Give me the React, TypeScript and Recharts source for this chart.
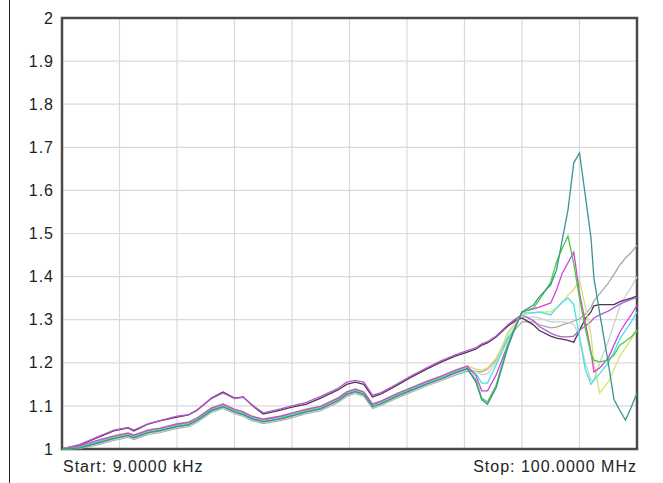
import { LineChart, Line, XAxis, YAxis, CartesianGrid, ReferenceArea } from 'recharts'

// frequency position across the sweep, 0 = start, 100 = stop
const sweep = [
  0, 3, 6.5, 9, 11.5, 12.5, 15, 17, 20, 22, 23.5, 26, 28, 30, 31.5, 33, 35, 38, 40, 42.5, 45, 48, 49.5, 51, 52.5, 54,
  55.5, 58, 60.5, 63.5, 66, 68.5, 70.5, 72, 73, 74, 75.5, 77.5, 79, 80, 82, 83, 85, 86, 87, 88, 89, 90, 91, 92, 92.5,
  93.5, 95, 96, 97, 98, 99, 100,
]

const trace1 = [
  1.0, 1.009, 1.028, 1.042, 1.049, 1.042, 1.058, 1.065, 1.074, 1.079, 1.09, 1.118, 1.132, 1.118, 1.121, 1.102, 1.081,
  1.09, 1.097, 1.104, 1.118, 1.137, 1.15, 1.155, 1.15, 1.121, 1.128, 1.146, 1.165, 1.186, 1.202, 1.216, 1.225,
  1.232, 1.241, 1.246, 1.26, 1.285, 1.299, 1.304, 1.288, 1.275, 1.262, 1.257, 1.255, 1.252, 1.248, 1.275, 1.302,
  1.318, 1.332, 1.335, 1.335, 1.335, 1.342, 1.346, 1.35, 1.355,
]
const trace2 = [
  1.0, 1.01, 1.03, 1.044, 1.05, 1.044, 1.059, 1.066, 1.076, 1.08, 1.091, 1.117, 1.13, 1.117, 1.12, 1.103, 1.084,
  1.093, 1.1, 1.108, 1.122, 1.141, 1.155, 1.159, 1.155, 1.125, 1.131, 1.149, 1.168, 1.189, 1.205, 1.219, 1.228,
  1.235, 1.244, 1.249, 1.262, 1.288, 1.303, 1.311, 1.298, 1.284, 1.269, 1.263, 1.26, 1.26, 1.262, 1.276, 1.285,
  1.296, 1.304, 1.311, 1.32, 1.328, 1.336, 1.342, 1.347, 1.352,
]
const trace3 = [
  1.0, 1.003, 1.016, 1.025, 1.032, 1.027, 1.039, 1.043, 1.053, 1.057, 1.067, 1.09, 1.099, 1.087, 1.081, 1.071, 1.064,
  1.071, 1.078, 1.087, 1.094, 1.113, 1.127, 1.134, 1.127, 1.099, 1.106, 1.122, 1.136, 1.152, 1.164, 1.178, 1.187,
  1.16, 1.118, 1.109, 1.148, 1.241, 1.288, 1.318, 1.327, 1.346, 1.387, 1.434, 1.466, 1.494, 1.43, 1.35, 1.28, 1.22,
  1.206, 1.202, 1.206, 1.218, 1.241, 1.25, 1.26, 1.276,
]
const trace4 = [
  1.0, 1.002, 1.015, 1.024, 1.031, 1.026, 1.038, 1.042, 1.052, 1.056, 1.066, 1.089, 1.098, 1.086, 1.08, 1.07, 1.063,
  1.07, 1.077, 1.086, 1.093, 1.112, 1.126, 1.133, 1.126, 1.098, 1.105, 1.121, 1.135, 1.151, 1.163, 1.177, 1.186,
  1.155, 1.114, 1.104, 1.142, 1.234, 1.288, 1.318, 1.334, 1.353, 1.381, 1.415, 1.485, 1.555, 1.664, 1.687, 1.589,
  1.49, 1.397, 1.316, 1.2, 1.115, 1.09, 1.067, 1.097, 1.13,
]
const trace5 = [
  1.0, 1.007, 1.021, 1.03, 1.037, 1.032, 1.044, 1.048, 1.058, 1.062, 1.072, 1.095, 1.104, 1.092, 1.086, 1.076, 1.069,
  1.076, 1.083, 1.092, 1.099, 1.118, 1.132, 1.139, 1.132, 1.104, 1.111, 1.127, 1.141, 1.157, 1.169, 1.183, 1.192,
  1.17, 1.135, 1.135, 1.172, 1.241, 1.288, 1.318, 1.325, 1.329, 1.339, 1.369, 1.408, 1.432, 1.457, 1.362, 1.295,
  1.225, 1.179, 1.188, 1.211, 1.241, 1.271, 1.292, 1.311, 1.334,
]
const trace6 = [
  1.0, 1.005, 1.019, 1.028, 1.035, 1.03, 1.042, 1.046, 1.056, 1.06, 1.07, 1.093, 1.102, 1.09, 1.084, 1.074, 1.067,
  1.074, 1.081, 1.09, 1.097, 1.116, 1.13, 1.137, 1.13, 1.102, 1.109, 1.125, 1.139, 1.155, 1.167, 1.181, 1.19,
  1.175, 1.153, 1.153, 1.195, 1.253, 1.288, 1.316, 1.316, 1.318, 1.311, 1.327, 1.341, 1.35, 1.335, 1.26, 1.185,
  1.15, 1.16, 1.175, 1.2, 1.225, 1.255, 1.275, 1.295, 1.318,
]
const trace7 = [
  1.0, 1.006, 1.021, 1.031, 1.038, 1.033, 1.045, 1.049, 1.059, 1.063, 1.073, 1.096, 1.105, 1.093, 1.087, 1.077, 1.07,
  1.077, 1.084, 1.093, 1.1, 1.119, 1.133, 1.14, 1.133, 1.105, 1.112, 1.128, 1.142, 1.158, 1.17, 1.184, 1.193,
  1.185, 1.183, 1.188, 1.211, 1.265, 1.295, 1.311, 1.316, 1.318, 1.318, 1.327, 1.339, 1.357, 1.37, 1.392, 1.33,
  1.265, 1.2, 1.13, 1.155, 1.185, 1.215, 1.235, 1.255, 1.275,
]
const trace8 = [
  1.0, 1.002, 1.013, 1.022, 1.029, 1.024, 1.036, 1.04, 1.05, 1.054, 1.064, 1.087, 1.096, 1.084, 1.078, 1.068, 1.061,
  1.068, 1.075, 1.084, 1.091, 1.11, 1.124, 1.131, 1.124, 1.096, 1.103, 1.119, 1.133, 1.149, 1.161, 1.175, 1.184,
  1.18, 1.172, 1.175, 1.2, 1.27, 1.295, 1.306, 1.306, 1.304, 1.295, 1.295, 1.295, 1.293, 1.29, 1.26, 1.2, 1.16,
  1.16, 1.2, 1.25, 1.29, 1.33, 1.355, 1.375, 1.4,
]
const trace9 = [
  1.0, 1.001, 1.011, 1.02, 1.027, 1.022, 1.034, 1.038, 1.048, 1.052, 1.062, 1.085, 1.094, 1.082, 1.076, 1.066, 1.059,
  1.066, 1.073, 1.082, 1.089, 1.108, 1.122, 1.129, 1.122, 1.094, 1.101, 1.117, 1.131, 1.147, 1.159, 1.172, 1.18,
  1.18, 1.179, 1.185, 1.206, 1.258, 1.28, 1.295, 1.295, 1.288, 1.281, 1.283, 1.288, 1.292, 1.297, 1.302, 1.313,
  1.328, 1.343, 1.36, 1.385, 1.405, 1.427, 1.443, 1.456, 1.473,
]

const xTicks = [0, 10, 20, 30, 40, 50, 60, 70, 80, 90, 100]
const yTicks = [1, 1.1, 1.2, 1.3, 1.4, 1.5, 1.6, 1.7, 1.8, 1.9, 2]

const traces = [
  { key: 't9', values: trace9, color: '#a9a9a9' },
  { key: 't8', values: trace8, color: '#cfcfcf' },
  { key: 't1', values: trace1, color: '#4e3352' },
  { key: 't2', values: trace2, color: '#b25ccf' },
  { key: 't7', values: trace7, color: '#d6e26c' },
  { key: 't6', values: trace6, color: '#45e2e2' },
  { key: 't5', values: trace5, color: '#d442dc' },
  { key: 't3', values: trace3, color: '#3fcf3f' },
  { key: 't4', values: trace4, color: '#3d9393' },
]

const data = sweep.map((x, i) => {
  const row: Record<string, number> = { x }
  traces.forEach((t) => {
    row[t.key] = t.values[i]
  })
  return row
})

const font = '"Liberation Sans", Arial, sans-serif'

export default function App() {
  return (
    <div style={{ position: 'absolute', left: 0, top: 0, width: 663, height: 483, background: '#fff' }}>
      <div style={{ position: 'absolute', left: 9, top: 0, width: 1, height: 483, background: '#222' }} />
      <LineChart width={663} height={483} data={data} margin={{ top: 18, right: 26, bottom: 34, left: 0 }}>
        <CartesianGrid stroke="#dadada" strokeWidth={1.2} />
        <XAxis dataKey="x" type="number" domain={[0, 100]} ticks={xTicks} hide />
        <YAxis
          type="number"
          domain={[1, 2]}
          ticks={yTicks}
          width={62}
          axisLine={false}
          tickLine={false}
          interval={0}
          tick={{ fontSize: 16, fill: '#1e1e1e', fontFamily: font, letterSpacing: 1 }}
        />
        {traces.map((t) => (
          <Line
            key={t.key}
            type="linear"
            dataKey={t.key}
            stroke={t.color}
            strokeWidth={1.3}
            dot={false}
            isAnimationActive={false}
          />
        ))}
        <ReferenceArea
          x1={0}
          x2={100}
          y1={1}
          y2={2}
          fill="none"
          fillOpacity={0}
          stroke="#4a4a4a"
          strokeOpacity={1}
          strokeWidth={2.5}
          ifOverflow="visible"
        />
      </LineChart>
      <div
        style={{
          position: 'absolute',
          left: 63,
          top: 458,
          fontFamily: font,
          fontSize: 16,
          letterSpacing: 1,
          color: '#1e1e1e',
          lineHeight: '18px',
        }}
      >
        Start: 9.0000 kHz
      </div>
      <div
        style={{
          position: 'absolute',
          right: 26,
          top: 458,
          fontFamily: font,
          fontSize: 16,
          letterSpacing: 1,
          color: '#1e1e1e',
          lineHeight: '18px',
          whiteSpace: 'nowrap',
        }}
      >
        Stop: 100.0000 MHz
      </div>
    </div>
  )
}
